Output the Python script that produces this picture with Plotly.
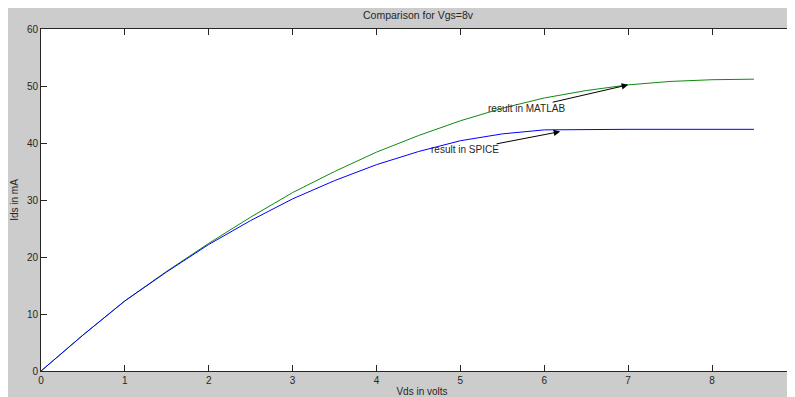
import plotly.graph_objects as go

vds = [0, 0.5, 1, 1.5, 2, 2.5, 3, 3.5, 4, 4.5, 5, 5.5, 6, 6.5, 7, 7.5, 8, 8.5]
ids_matlab = [0, 6.3, 12.3, 17.5, 22.4, 27.0, 31.3, 35.0, 38.4, 41.3, 43.9, 46.1, 47.9, 49.2, 50.2, 50.8, 51.1, 51.2]
ids_spice = [0, 6.3, 12.3, 17.4, 22.2, 26.4, 30.2, 33.4, 36.2, 38.5, 40.4, 41.6, 42.3, 42.4, 42.4, 42.4, 42.4, 42.4]
x_ticks = [0, 1, 2, 3, 4, 5, 6, 7, 8]
y_ticks = [0, 10, 20, 30, 40, 50, 60]

# annotation anchors (data coords)
matlab_tip = (7.0, 50.2)
matlab_txt = (5.79, 46.1)
spice_tip = (6.19, 42.0)
spice_txt = (5.06, 38.8)

font = "Liberation Sans, Arial, sans-serif"
dark = "#262626"

fig = go.Figure()
fig.add_trace(go.Scatter(x=vds, y=ids_matlab, mode="lines", line=dict(color="#108a10", width=1), name="MATLAB"))
fig.add_trace(go.Scatter(x=vds, y=ids_spice, mode="lines", line=dict(color="#0000ff", width=1), name="SPICE"))

for tip, txt, label in [(matlab_tip, matlab_txt, "result in MATLAB"), (spice_tip, spice_txt, "result in SPICE")]:
    fig.add_annotation(x=tip[0], y=tip[1], ax=txt[0], ay=txt[1], xref="x", yref="y", axref="x", ayref="y",
                       text=label, showarrow=True, arrowhead=2, arrowsize=1.3, arrowwidth=1, arrowcolor="black",
                       font=dict(family=font, size=10, color=dark), borderpad=0)

axis_common = dict(showgrid=False, zeroline=False, showline=True, linecolor=dark, linewidth=1,
                   mirror="ticks", ticks="inside", ticklen=6, tickcolor=dark,
                   tickfont=dict(family=font, size=10, color=dark))

fig.update_layout(
    width=795, height=397,
    margin=dict(l=33, r=0, t=21, b=34),
    paper_bgcolor="#cccccc", plot_bgcolor="white",
    showlegend=False,
    title=dict(text="Comparison for Vgs=8v", x=410/795, xanchor="center", y=1 - 7/397, yanchor="middle",
               yref="container", font=dict(family=font, size=10.5, color=dark)),
    xaxis=dict(range=[0, 762/83.875], tickvals=x_ticks, ticktext=[str(v) for v in x_ticks],
               title=dict(text="Vds in volts", standoff=2, font=dict(family=font, size=10, color=dark)),
               **axis_common),
    yaxis=dict(range=[0, 60], tickvals=y_ticks, ticktext=[str(v) for v in y_ticks],
               title=dict(text="Ids in mA", standoff=6, font=dict(family=font, size=10, color=dark)),
               **axis_common),
)

fig.write_html("out.html")
